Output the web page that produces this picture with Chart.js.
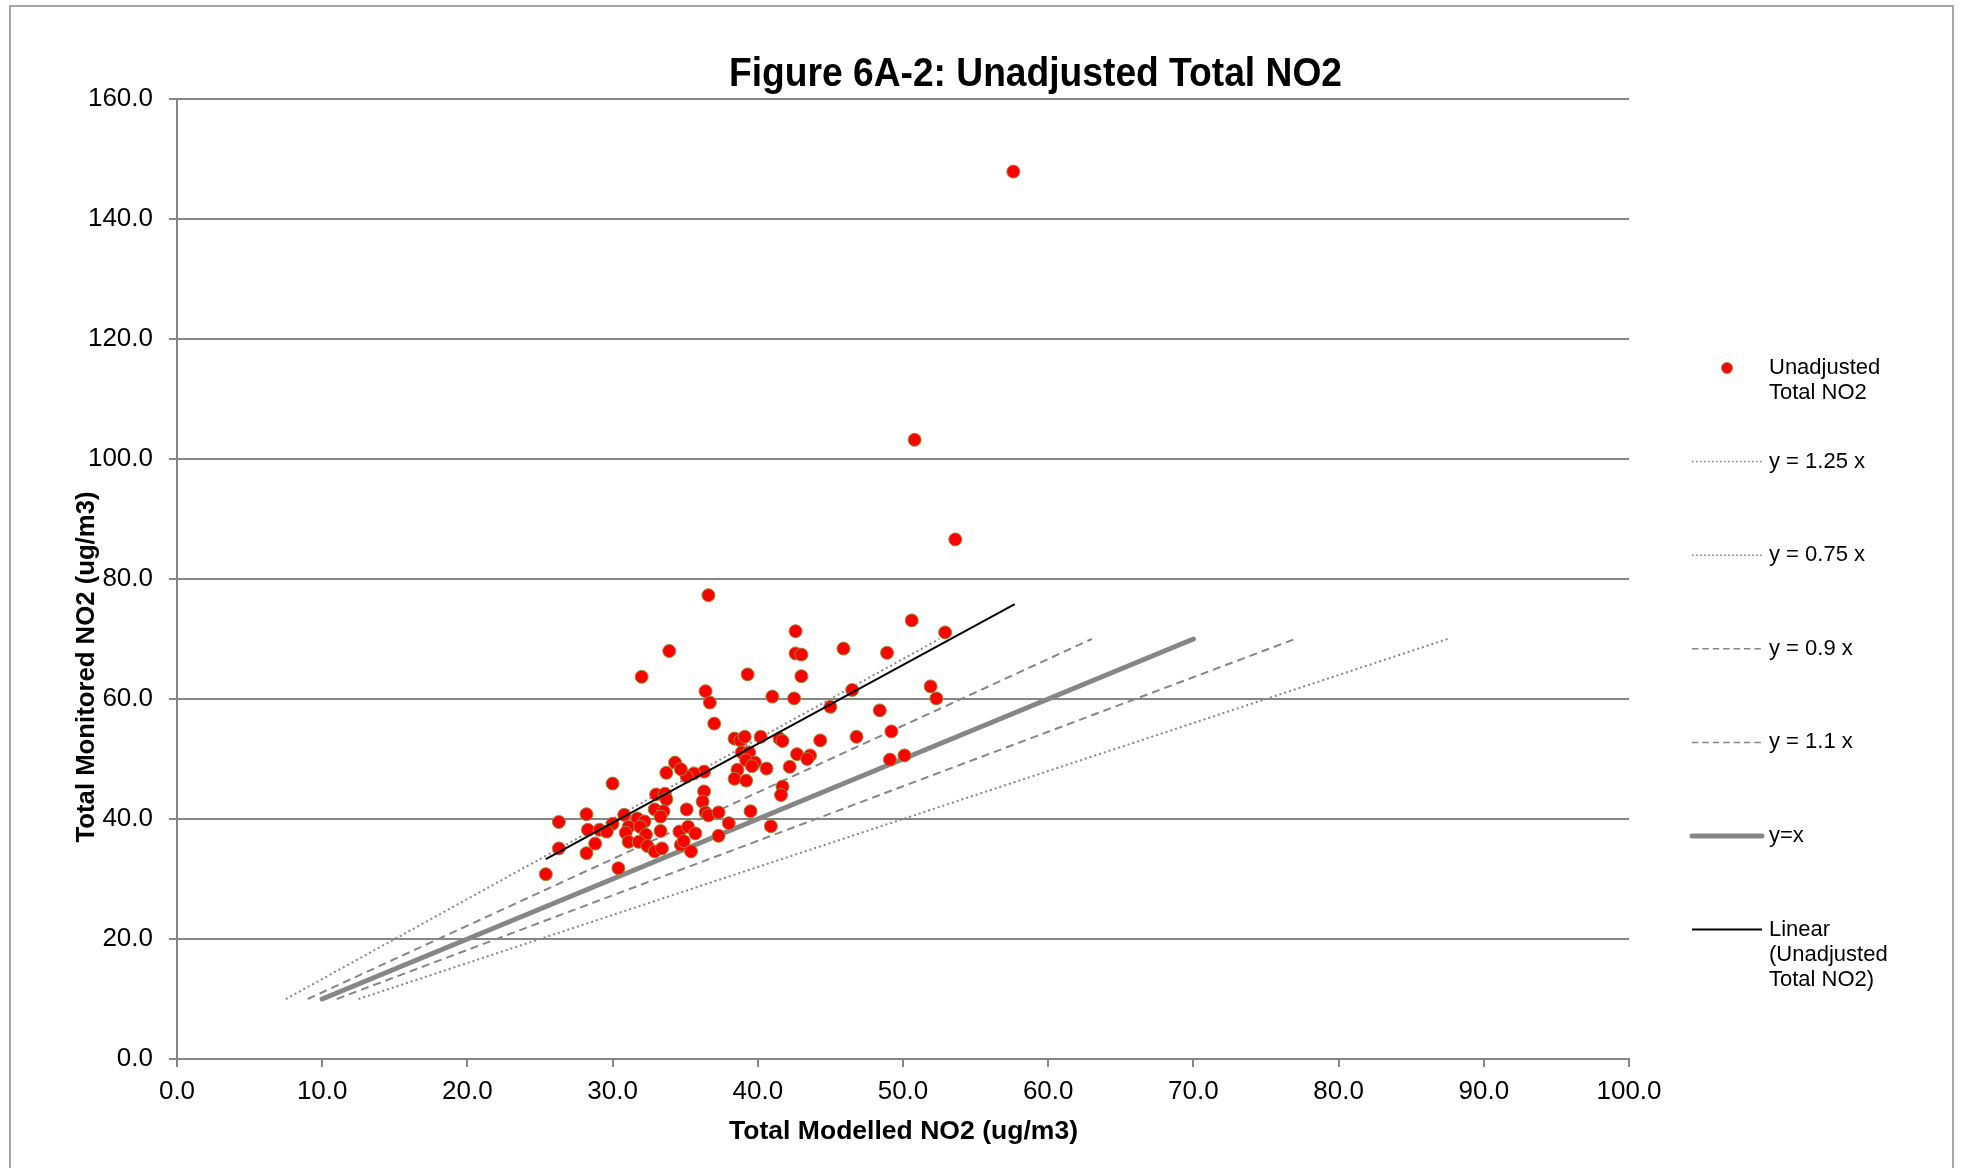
<!DOCTYPE html>
<html>
<head>
<meta charset="utf-8">
<script src="https://cdn.jsdelivr.net/npm/chart.js@4.4.1/dist/chart.umd.min.js"></script>
<style>
html,body{margin:0;padding:0;background:#fff;overflow:hidden}
#wrap{position:relative;width:1963px;height:1168px}
#frame{position:absolute;left:9px;top:5px;width:1945px;height:1220px;border:2px solid #a6a6a6;box-sizing:border-box}
canvas{position:absolute;left:0;top:0}
</style>
</head>
<body>
<div id="wrap"><div id="frame"></div><canvas id="c" width="1963" height="1168"></canvas></div>
<script>
// ---- data ----
const modelled = [36.6,33.9,32.0,42.6,42.6,43.0,43.0,39.3,45.9,48.9,50.6,52.9,51.9,52.3,46.5,45.0,36.4,36.7,41.0,42.5,
  37.0,48.4,49.2,46.8,44.3,49.1,50.1,38.4,38.8,39.1,40.2,41.5,41.7,38.9,39.4,39.2,39.8,39.6,42.7,43.6,
  43.4,40.6,42.2,38.6,38.4,39.2,41.7,41.6,39.5,40.9,36.3,35.6,35.1,34.3,34.7,33.7,30.0,33.0,33.6,33.7,
  36.3,36.2,35.1,36.4,36.6,37.3,32.9,33.5,33.3,30.8,30.0,31.7,32.2,31.1,31.9,28.2,26.3,28.3,29.1,29.6,
  30.9,32.3,33.3,34.6,35.2,35.7,38.0,28.8,26.3,28.2,31.1,31.8,32.4,32.9,33.4,34.7,34.9,35.4,37.3,25.4,
  30.4,57.6,50.8,53.6];
const monitored = [77.3,68.0,63.7,71.3,67.6,67.4,63.8,64.1,68.4,67.7,73.1,71.1,62.1,60.1,61.5,58.7,61.3,59.4,60.4,60.1,
  55.9,58.1,54.6,53.7,53.1,49.9,50.6,53.4,53.1,53.7,53.7,53.4,53.0,51.1,51.1,49.8,49.4,48.8,50.8,50.6,
  50.0,48.4,48.7,48.2,46.7,46.4,45.4,44.0,41.3,38.8,47.9,47.6,47.1,49.4,48.3,47.7,45.9,44.1,44.2,43.3,
  44.6,42.9,41.6,41.1,40.6,41.1,41.6,41.3,40.4,40.7,39.2,40.1,39.6,38.7,38.7,40.8,39.5,38.2,38.2,37.9,
  37.7,37.4,38.0,37.9,38.7,37.6,39.3,35.9,35.1,34.3,36.2,36.2,35.5,34.6,35.1,35.7,36.3,34.6,37.2,30.8,
  31.8,147.9,103.2,86.6];

// reference lines (end points)
const line125X = [7.5, 52.5],  line125Y = [10, 70];
const line075X = [12.5, 87.5], line075Y = [10, 70];
const line09X  = [9, 63],      line09Y  = [10, 70];
const line11X  = [11, 77],     line11Y  = [10, 70];
const lineEqX  = [10, 70],     lineEqY  = [10, 70];
const trendX   = [25.4, 57.7], trendY   = [33.3, 75.8];

const xTicks = [0,10,20,30,40,50,60,70,80,90,100];
const yTicks = [0,20,40,60,80,100,120,140,160];

const titleText = "Figure 6A-2: Unadjusted Total NO2";
const xTitle = "Total Modelled NO2 (ug/m3)";
const yTitle = "Total Monitored NO2 (ug/m3)";

const labelScatter = ["Unadjusted", "Total NO2"];
const label125 = ["y = 1.25 x"];
const label075 = ["y = 0.75 x"];
const label09 = ["y = 0.9 x"];
const label11 = ["y = 1.1 x"];
const labelEq = ["y=x"];
const labelTrend = ["Linear", "(Unadjusted", "Total NO2)"];

// ---- build datasets ----
const pts = (xs, ys) => xs.map((x, i) => ({x: x, y: ys[i]}));
const GRAY = '#868686';
const FONT = "'Liberation Sans', Arial, Helvetica, sans-serif";
Chart.defaults.font.family = FONT;

function lineDs(lines, xs, ys, dash, width, order, cap) {
  return {
    type: 'scatter', label: lines.join(' '), legendLines: lines,
    data: pts(xs, ys), showLine: true, pointRadius: 0, pointHoverRadius: 0,
    borderColor: GRAY, borderWidth: width, borderDash: dash, borderCapStyle: cap || 'butt',
    fill: false, order: order, kind: 'line'
  };
}

const datasets = [
  {
    type: 'scatter', label: labelScatter.join(' '), legendLines: labelScatter,
    data: pts(modelled, monitored),
    backgroundColor: '#FF0000', borderColor: '#9A8A3E', borderWidth: 1,
    pointRadius: 6.5, pointHoverRadius: 6.5, order: 1, kind: 'point'
  },
  lineDs(label125, line125X, line125Y, [2, 3], 2, 3),
  lineDs(label075, line075X, line075Y, [2, 3], 2, 3),
  lineDs(label09, line09X, line09Y, [8, 5], 2, 3),
  lineDs(label11, line11X, line11Y, [8, 5], 2, 3),
  lineDs(labelEq, lineEqX, lineEqY, [], 5, 2, 'round'),
  Object.assign(lineDs(labelTrend, trendX, trendY, [], 2, 0), {borderColor: '#000000'})
];

function fitText(ctx, text, x, y, font, width, align) {
  ctx.save();
  ctx.font = font;
  const w = ctx.measureText(text).width;
  const s = width / w;
  ctx.translate(x, y);
  ctx.scale(s, 1);
  ctx.textAlign = align || 'left';
  ctx.textBaseline = 'alphabetic';
  ctx.fillStyle = '#000';
  ctx.fillText(text, 0, 0);
  ctx.restore();
}

const decor = {
  id: 'decor',
  afterDraw(chart) {
    const ctx = chart.ctx;
    // title
    fitText(ctx, titleText, 729, 86, "bold 40px " + FONT, 613, 'left');
    // x title
    fitText(ctx, xTitle, 903.5, 1139, "bold 26px " + FONT, 349, 'center');
    // y title (rotated)
    ctx.save();
    ctx.translate(93.5, 667);
    ctx.rotate(-Math.PI / 2);
    fitText(ctx, yTitle, 0, 0, "bold 26px " + FONT, 351, 'center');
    ctx.restore();

    // legend
    const x0 = 1692, x1 = 1762, tx = 1769, top = 368, step = 93.6, lh = 25;
    chart.data.datasets.forEach((ds, i) => {
      const cy = top + step * i;
      ctx.save();
      if (ds.kind === 'point') {
        ctx.beginPath();
        ctx.arc(1727, cy, 5.5, 0, Math.PI * 2);
        ctx.fillStyle = ds.backgroundColor;
        ctx.fill();
        ctx.lineWidth = 1;
        ctx.strokeStyle = ds.borderColor;
        ctx.stroke();
      } else {
        ctx.beginPath();
        ctx.setLineDash(ds.borderDash.length ? ds.borderDash.map(v => v * 0.8) : []);
        ctx.lineWidth = ds.borderWidth === 5 ? 5 : (ds.borderDash.length ? 1.5 : 2);
        ctx.lineCap = ds.borderCapStyle;
        ctx.strokeStyle = ds.borderColor;
        ctx.moveTo(x0, cy);
        ctx.lineTo(x1, cy);
        ctx.stroke();
      }
      ctx.restore();
      ctx.save();
      ctx.font = "22px " + FONT;
      ctx.fillStyle = '#000';
      ctx.textAlign = 'left';
      ctx.textBaseline = 'middle';
      ds.legendLines.forEach((t, k) => ctx.fillText(t, tx, cy + k * lh));
      ctx.restore();
    });
  }
};

new Chart(document.getElementById('c'), {
  type: 'scatter',
  data: { datasets: datasets },
  options: {
    responsive: false,
    animation: false,
    devicePixelRatio: 1,
    layout: { padding: { left: 0, top: 99, right: 334, bottom: 0 } },
    plugins: { legend: { display: false }, title: { display: false }, tooltip: { enabled: false } },
    scales: {
      x: {
        type: 'linear', min: xTicks[0], max: xTicks[xTicks.length - 1],
        afterBuildTicks: (s) => { s.ticks = xTicks.map(v => ({value: v})); },
        afterFit: (s) => { s.height = 109; },
        ticks: { font: { size: 26 }, color: '#000', padding: 9, maxRotation: 0, autoSkip: false,
                 callback: (v) => Number(v).toFixed(1) },
        grid: { drawOnChartArea: false, drawTicks: true, tickLength: 8, color: GRAY, lineWidth: 2 },
        border: { display: true, color: GRAY, width: 2 }
      },
      y: {
        type: 'linear', min: yTicks[0], max: yTicks[yTicks.length - 1],
        afterBuildTicks: (s) => { s.ticks = yTicks.map(v => ({value: v})); },
        afterFit: (s) => { s.width = 177; },
        ticks: { font: { size: 26 }, color: '#000', padding: 16, autoSkip: false,
                 callback: (v) => Number(v).toFixed(1) },
        grid: { drawOnChartArea: true, drawTicks: true, tickLength: 8, color: GRAY, lineWidth: 2 },
        border: { display: true, color: GRAY, width: 2 }
      }
    }
  },
  plugins: [decor]
});
</script>
</body>
</html>
